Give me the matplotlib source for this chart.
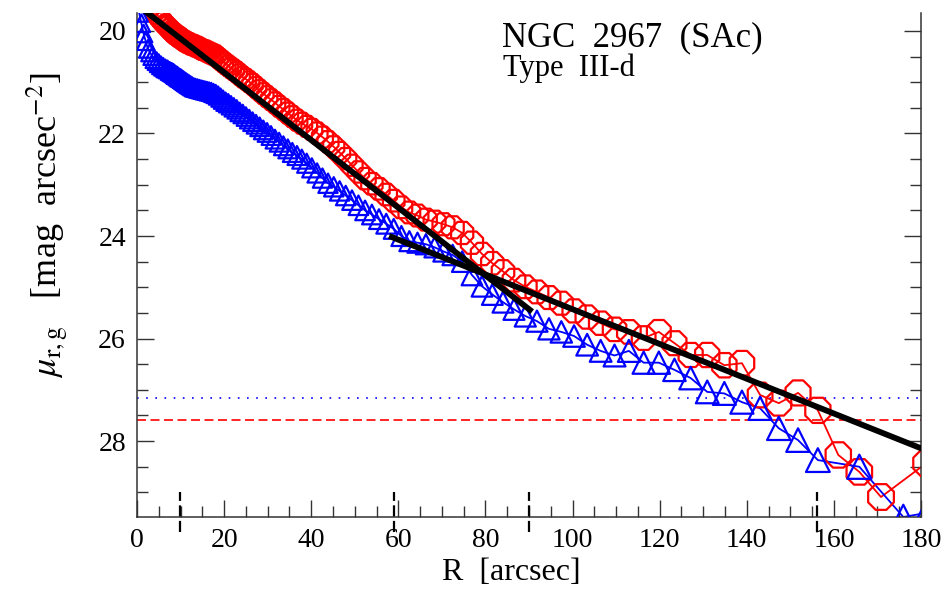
import numpy as np
import matplotlib
matplotlib.use('Agg')
import matplotlib.pyplot as plt
from matplotlib.ticker import MultipleLocator
import matplotlib.transforms as mtransforms

# radii (arcsec) of the isophote samples
r_red = [0.5, 1.0, 1.5, 2.0, 2.5, 3.0, 3.5, 4.0, 4.5, 5.0, 5.5, 6.0, 6.5, 7.0, 7.5,
         7.90, 8.14, 8.38, 8.63, 8.89, 9.16, 9.43, 9.71, 10.00, 10.30, 10.61, 10.93,
         11.26, 11.60, 11.95, 12.30, 12.67, 13.05, 13.44, 13.85, 14.26, 14.69, 15.13,
         15.58, 16.05, 16.53, 17.03, 17.54, 18.07, 18.61, 19.17, 19.74, 20.33, 20.94,
         21.57, 22.22, 22.89, 23.57, 24.28, 25.01, 25.76, 26.53, 27.33, 28.15, 28.99,
         29.86, 30.76, 31.68, 32.63, 33.61, 34.62, 35.66, 36.73, 37.83, 38.96, 40.13,
         41.34, 42.58, 43.85, 45.17, 46.52, 47.92, 49.36, 50.84, 52.36, 53.93, 55.55,
         57.22, 58.94, 60.70, 62.53, 64.40, 66.33, 68.32, 70.37, 72.48, 74.66, 76.90,
         79.21, 81.58, 84.03, 86.55, 89.15, 91.82, 94.58, 97.42, 100.34, 103.35,
         106.45, 109.64, 112.93, 116.32, 119.81, 123.40, 127.11, 130.92, 134.85,
         138.89, 143.06, 147.35, 151.77, 156.32, 161.01, 165.84, 170.82, 181.22]
mu_red = [19.00, 19.08, 19.17, 19.25, 19.33, 19.42, 19.50, 19.59, 19.67, 19.73, 19.78,
          19.83, 19.88, 19.92, 19.96,
          20.00, 20.02, 20.04, 20.06, 20.07, 20.09, 20.11, 20.12, 20.14, 20.16, 20.18,
          20.20, 20.21, 20.23, 20.24, 20.26, 20.27, 20.28, 20.30, 20.31, 20.33, 20.35,
          20.37, 20.38, 20.40, 20.42, 20.44, 20.46, 20.48, 20.52, 20.56, 20.60, 20.64,
          20.68, 20.72, 20.76, 20.80, 20.85, 20.90, 20.94, 20.99, 21.04, 21.10, 21.16,
          21.22, 21.28, 21.34, 21.40, 21.47, 21.53, 21.60, 21.67, 21.74, 21.80, 21.86,
          21.92, 21.99, 22.07, 22.16, 22.26, 22.37, 22.49, 22.62, 22.75, 22.88, 22.98,
          23.08, 23.19, 23.31, 23.44, 23.54, 23.60, 23.68, 23.72, 23.77, 23.83, 23.94,
          24.13, 24.35, 24.53, 24.69, 24.86, 24.99, 25.09, 25.20, 25.31, 25.46, 25.58,
          25.70, 25.82, 25.87, 25.99, 25.87, 26.09, 26.32, 26.32, 26.52, 26.48, 27.10,
          27.26, 27.06, 27.40, 28.27, 28.60, 29.09, 28.43]

r_blue = [0.5, 1.0, 1.5, 2.0, 2.5, 3.0, 3.5, 4.0, 4.5, 5.0, 5.5, 6.0, 6.5, 7.0, 7.5,
          7.90, 8.14, 8.38, 8.63, 8.89, 9.16, 9.43, 9.71, 10.00, 10.30, 10.61, 10.93,
          11.26, 11.60, 11.95, 12.30, 12.67, 13.05, 13.44, 13.85, 14.26, 14.69, 15.13,
          15.58, 16.05, 16.53, 17.03, 17.54, 18.07, 18.61, 19.17, 19.74, 20.33, 20.94,
          21.57, 22.22, 22.89, 23.57, 24.28, 25.01, 25.76, 26.53, 27.33, 28.15, 28.99,
          29.86, 30.76, 31.68, 32.63, 33.61, 34.62, 35.66, 36.73, 37.83, 38.96, 40.13,
          41.34, 42.58, 43.85, 45.17, 46.52, 47.92, 49.36, 50.84, 52.36, 53.93, 55.55,
          57.22, 58.94, 60.70, 62.53, 64.40, 66.33, 68.32, 70.37, 72.48, 74.66, 76.90,
          79.21, 81.58, 84.03, 86.55, 89.15, 91.82, 94.58, 97.42, 100.34, 103.35,
          106.45, 109.64, 112.93, 116.32, 119.81, 123.40, 127.11, 130.92, 134.85,
          138.89, 143.06, 147.35, 151.77, 156.32, 165.84, 175.94, 181.22]
mu_blue = [19.65, 19.85, 20.05, 20.20, 20.35, 20.42, 20.49, 20.55, 20.59, 20.63, 20.67,
           20.70, 20.73, 20.75, 20.78,
           20.80, 20.81, 20.82, 20.84, 20.86, 20.87, 20.89, 20.91, 20.92, 20.94, 20.96,
           20.98, 21.00, 21.02, 21.04, 21.06, 21.08, 21.10, 21.11, 21.12, 21.13, 21.14,
           21.15, 21.16, 21.17, 21.18, 21.19, 21.21, 21.23, 21.26, 21.30, 21.34, 21.38,
           21.41, 21.45, 21.49, 21.53, 21.58, 21.62, 21.67, 21.72, 21.77, 21.82, 21.87,
           21.93, 21.98, 22.04, 22.11, 22.17, 22.24, 22.30, 22.37, 22.43, 22.50, 22.58,
           22.67, 22.77, 22.87, 22.97, 23.04, 23.12, 23.21, 23.30, 23.40, 23.50, 23.58,
           23.67, 23.76, 23.86, 24.00, 24.10, 24.13, 24.16, 24.22, 24.30, 24.37, 24.50,
           24.76, 24.98, 25.14, 25.29, 25.43, 25.56, 25.66, 25.81, 25.87, 25.95, 26.12,
           26.24, 26.33, 26.24, 26.47, 26.47, 26.61, 26.77, 27.04, 27.07, 27.24, 27.36,
           27.75, 27.98, 28.37, 28.50, 29.48, 29.40]

# exponential fits (inner / outer disc), end points
fit_in_r = [0.0, 90.2]
fit_in_mu = [19.49, 25.44]
fit_out_r = [58.5, 180.0]
fit_out_mu = [24.02, 28.14]

# surface brightness limits
lim_g = 27.16
lim_r = 27.59

# fit region boundaries
bounds = [9.8, 58.9, 90.1, 156.2]

plt.rcParams['font.family'] = ['Liberation Serif', 'DejaVu Serif']
plt.rcParams['mathtext.fontset'] = 'stix'

fig = plt.figure(figsize=(9.49, 5.89), dpi=100)
ax = fig.add_axes([137/949, 1-517/589, (921-137)/949, (517-13)/589])

r_red = np.array(r_red)
r_blue = np.array(r_blue)

ax.plot(r_red, mu_red, color='red', lw=1.3, zorder=2)
d_red = (21 + 0.04*r_red)*0.72
ax.scatter(r_red, mu_red, s=d_red**2, marker='8', facecolors='none',
           edgecolors='red', linewidths=1.6, zorder=3)

ax.plot(r_blue, mu_blue, color='blue', lw=1.3, zorder=2)
d_blue = (17.5 + 0.04*r_blue)*0.72
ax.scatter(r_blue, mu_blue, s=d_blue**2, marker='^', facecolors='none',
           edgecolors='blue', linewidths=1.6, zorder=3)

ax.plot(fit_in_r, fit_in_mu, color='black', lw=4.2, zorder=5)
ax.plot(fit_out_r, fit_out_mu, color='black', lw=4.2, zorder=5)

ax.axhline(lim_g, color='blue', lw=1.2, ls=(0, (1, 4.5)), zorder=1)
ax.axhline(lim_r, color='red', lw=1.2, ls=(0, (5.4, 2.7)), zorder=1)

trans = mtransforms.blended_transform_factory(ax.transData, ax.transAxes)
for b in bounds:
    ax.plot([b, b], [-0.03, 0.05], transform=trans, color='black', lw=1.6,
            ls=(0, (5, 2)), clip_on=False, zorder=6)

ax.set_xlim(0, 180)
ax.set_ylim(29.48, 19.65)
ax.xaxis.set_major_locator(MultipleLocator(20))
ax.xaxis.set_minor_locator(MultipleLocator(5))
ax.yaxis.set_major_locator(MultipleLocator(2))
ax.yaxis.set_minor_locator(MultipleLocator(0.5))
ax.tick_params(which='both', direction='in', top=False, right=True, width=1,
               color='#333333', labelsize=20, pad=8)
ax.tick_params(which='major', length=12)
ax.tick_params(which='minor', length=8)
for s in ax.spines.values():
    s.set_color('#333333')
    s.set_linewidth(1.1)
ax.spines['top'].set_visible(False)

fig.text(511/949, 1-580/589, 'R  [arcsec]', fontsize=23, ha='center', va='baseline')
fig.text(47/949, 1-225/589, r'$\mu_{\rm r,g}$   [mag  arcsec$^{-2}$]', fontsize=26,
         rotation=90, ha='center', va='center')

fig.text(502/949, 1-46/589, 'NGC  2967  (SAc)', fontsize=25, ha='left', va='baseline')
fig.text(503/949, 1-76/589, 'Type  III-d', fontsize=22, ha='left', va='baseline')

fig.savefig('out.png', dpi=100)
